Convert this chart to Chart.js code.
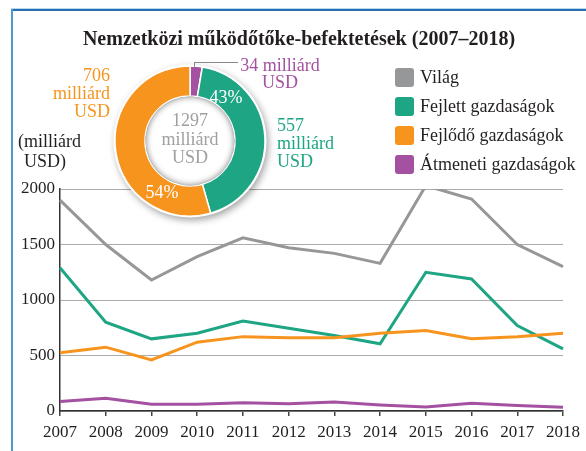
<!DOCTYPE html>
<html>
<head>
<meta charset="utf-8">
<script src="https://cdn.jsdelivr.net/npm/chart.js@4.4.1/dist/chart.umd.min.js"></script>
<style>
  body { margin: 0; background: #fff; }
  #wrap { position: relative; width: 586px; height: 451px; overflow: hidden; font-family: "Liberation Serif", "Times New Roman", serif; }
  #wrap canvas { position: absolute; }
  .t { position: absolute; white-space: nowrap; }
  .frameTop { position: absolute; left: 11px; top: 8px; width: 580px; height: 2px; background: #2471b3; border-top: 1px solid #bcd6ec; }
  .frameLeft { position: absolute; left: 11px; top: 9px; width: 2px; height: 450px; background: #4d9acb; }
  .box { position: absolute; left: 395px; width: 19px; height: 19px; border-radius: 3px; }
</style>
</head>
<body>
<div id="wrap">
  <canvas id="lineChart" width="586" height="451" style="left:0;top:0"></canvas>
  <canvas id="donutChart" width="180" height="180" style="left:100px;top:51px"></canvas>
  <div class="frameTop"></div>
  <div class="frameLeft"></div>

  <div class="t" style="left:0;width:598px;top:26px;text-align:center;font-size:20px;line-height:24px;font-weight:bold;color:#231f20">Nemzetközi működőtőke-befektetések (2007–2018)</div>

  <div class="t" style="left:18px;top:131px;font-size:18px;line-height:20px;color:#231f20">(milliárd</div>
  <div class="t" style="left:24px;top:151px;font-size:18px;line-height:20px;color:#231f20">USD)</div>

  <div class="t" style="right:476px;top:66px;text-align:right;font-size:18px;line-height:18px;color:#f7941e">706<br>milliárd<br>USD</div>
  <div class="t" style="left:240px;top:57px;width:80px;text-align:center;font-size:18px;line-height:16.5px;color:#a351a0">34 milliárd<br>USD</div>
  <div class="t" style="left:277px;top:116px;font-size:18px;line-height:18px;color:#1da584">557<br>milliárd<br>USD</div>
  <div class="t" style="left:150px;top:111px;width:80px;text-align:center;font-size:18px;line-height:18.5px;color:#a0a0a0">1297<br>milliárd<br>USD</div>
  <div class="t" style="left:206px;top:87px;width:40px;text-align:center;font-size:18px;line-height:20px;color:#fff">43%</div>
  <div class="t" style="left:142px;top:182px;width:40px;text-align:center;font-size:18px;line-height:20px;color:#fff">54%</div>
  <div style="position:absolute;left:194px;top:62px;width:43px;height:5px;border-top:1px solid #8a8a8a;border-left:1px solid #8a8a8a"></div>

  <div id="legend"></div>
</div>
<script>
const years = ["2007", "2008", "2009", "2010", "2011", "2012", "2013", "2014", "2015", "2016", "2017", "2018"];
const seriesNames = ["Világ", "Fejlett gazdaságok", "Fejlődő gazdaságok", "Átmeneti gazdaságok"];
const seriesColors = ["#959799", "#1da584", "#f7941e", "#a351a0"];
const vilag = [1900, 1500, 1180, 1390, 1560, 1470, 1420, 1330, 2030, 1910, 1500, 1300];
const fejlett = [1290, 800, 650, 700, 810, 745, 680, 605, 1250, 1190, 770, 560];
const fejlodo = [525, 575, 460, 620, 670, 660, 660, 700, 725, 650, 670, 700];
const atmeneti = [85, 115, 60, 60, 75, 65, 80, 55, 35, 70, 50, 34];
const yTicks = [0, 500, 1000, 1500, 2000];

// donut 2018: átmeneti, fejlett, fejlődő
const donutValues = [34, 557, 706];
const donutColors = ["#a351a0", "#1da584", "#f7941e"];

const fontFamily = '"Liberation Serif", "Times New Roman", serif';

// html legend
const legend = document.getElementById('legend');
seriesNames.forEach((name, i) => {
    const top = 67.5 + i * 29;
    const box = document.createElement('div');
    box.className = 'box';
    box.style.top = top + 'px';
    box.style.background = seriesColors[i];
    legend.appendChild(box);
    const txt = document.createElement('div');
    txt.className = 't';
    txt.style.cssText = 'left:420px;top:' + (top - 4.5) + 'px;font-size:18px;line-height:28px;color:#231f20';
    txt.textContent = name;
    legend.appendChild(txt);
});

const lineData = [vilag, fejlett, fejlodo, atmeneti];

new Chart(document.getElementById('lineChart'), {
    type: 'line',
    data: {
        labels: years,
        datasets: lineData.map((d, i) => ({
            label: seriesNames[i],
            data: d,
            borderColor: seriesColors[i],
            backgroundColor: seriesColors[i],
            borderWidth: 3,
            pointRadius: 0,
            tension: 0,
            fill: false
        })).reverse()
    },
    options: {
        responsive: false,
        animation: false,
        events: [],
        layout: { padding: { top: 189, right: 23, left: 0, bottom: 0 } },
        plugins: { legend: { display: false }, title: { display: false }, tooltip: { enabled: false } },
        scales: {
            x: {
                grid: { drawOnChartArea: false, drawTicks: true, tickLength: 5, color: '#444', lineWidth: 1.5 },
                border: { color: '#333', width: 1.5 },
                ticks: { color: '#231f20', font: { family: fontFamily, size: 17 }, padding: 6, maxRotation: 0, autoSkip: false },
                afterFit: s => { s.height = 40; }
            },
            y: {
                min: 0,
                max: 2000,
                afterBuildTicks: s => { s.ticks = yTicks.map(v => ({ value: v })); },
                grid: { color: '#ababab', drawTicks: false, lineWidth: 1 },
                border: { color: '#333', width: 1.5 },
                ticks: { color: '#231f20', font: { family: fontFamily, size: 17 }, padding: 5, callback: v => String(v) },
                afterFit: s => { s.width = 60; }
            }
        }
    }
});

// shadows around the donut ring and inside the hole
const donutShade = {
    id: 'donutShade',
    beforeDatasetsDraw(chart) {
        const arc = chart.getDatasetMeta(0).data[0];
        const { x, y, outerRadius, innerRadius } = arc;
        const ctx = chart.ctx;
        ctx.save();
        ctx.shadowColor = 'rgba(0,0,0,0.35)';
        ctx.shadowBlur = 7;
        ctx.shadowOffsetX = 2;
        ctx.shadowOffsetY = 3;
        ctx.beginPath();
        ctx.arc(x, y, outerRadius + 1.5, 0, Math.PI * 2);
        ctx.arc(x, y, innerRadius - 1, 0, Math.PI * 2, true);
        ctx.fillStyle = '#fff';
        ctx.fill();
        ctx.restore();
    },
    afterDatasetsDraw(chart) {
        const arc = chart.getDatasetMeta(0).data[0];
        const { x, y, innerRadius } = arc;
        const ctx = chart.ctx;
        ctx.save();
        ctx.beginPath();
        ctx.arc(x, y, innerRadius - 0.5, 0, Math.PI * 2);
        ctx.clip();
        ctx.fillStyle = '#fff';
        ctx.fill();
        ctx.shadowColor = 'rgba(0,0,0,0.5)';
        ctx.shadowBlur = 6;
        ctx.beginPath();
        ctx.arc(x, y, innerRadius + 30, 0, Math.PI * 2);
        ctx.arc(x, y, innerRadius - 0.5, 0, Math.PI * 2, true);
        ctx.fillStyle = '#888';
        ctx.fill();
        ctx.restore();
    }
};

new Chart(document.getElementById('donutChart'), {
    type: 'doughnut',
    data: {
        labels: ["Átmeneti gazdaságok", "Fejlett gazdaságok", "Fejlődő gazdaságok"],
        datasets: [{
            data: donutValues,
            backgroundColor: donutColors,
            borderColor: '#fff',
            borderWidth: 1.5,
            hoverOffset: 0
        }]
    },
    options: {
        responsive: false,
        animation: false,
        events: [],
        radius: 75,
        cutout: '60%',
        rotation: 0,
        plugins: { legend: { display: false }, tooltip: { enabled: false } }
    },
    plugins: [donutShade]
});
</script>
</body>
</html>
